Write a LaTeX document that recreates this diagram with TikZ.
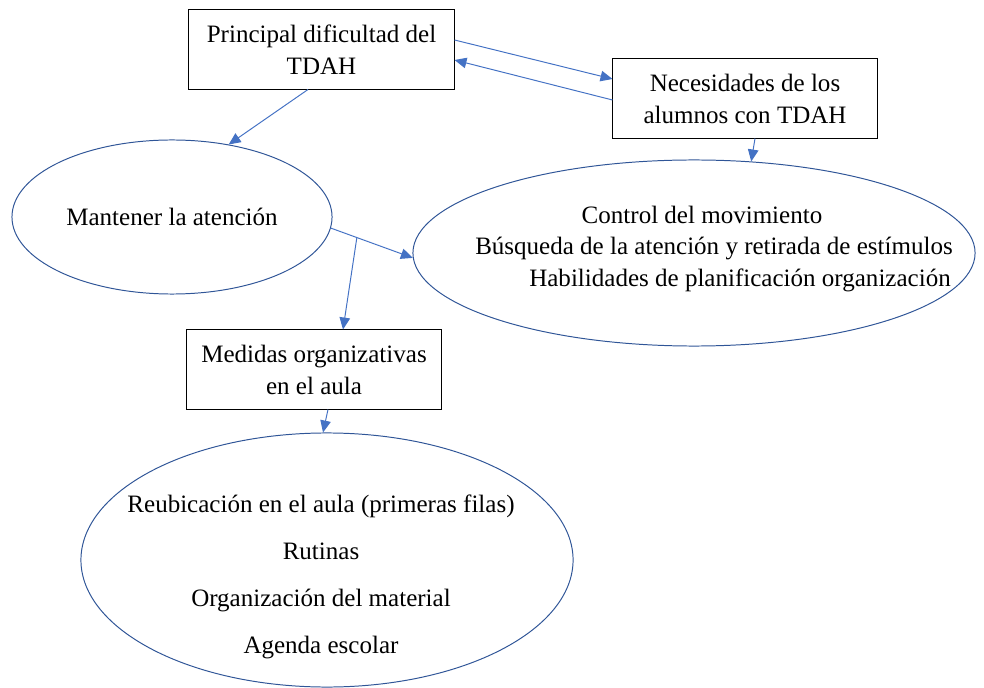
\documentclass[tikz,border=0pt]{standalone}
\usepackage{fontspec}
\setmainfont{Liberation Serif}
\usetikzlibrary{shapes,arrows.meta,positioning,calc}
\definecolor{linkblue}{RGB}{68,114,196}
\definecolor{ovalblue}{RGB}{47,85,151}

\begin{document}
\begin{tikzpicture}[
    x=0.025cm, y=-0.025cm,
    every node/.style={font=\fontsize{17.8}{22.7}\selectfont},
    box/.style={rectangle, draw=black, line width=0.7pt, align=center, inner sep=0pt, minimum height=1.975cm},
    oval/.style={ellipse, draw=ovalblue, line width=0.7pt, inner sep=0pt},
    arrow/.style={-{Triangle[length=8.5pt,width=7.5pt]}, draw=linkblue, line width=0.7pt}
]
    \useasboundingbox (0,0) rectangle (984,688);

    % Cuadros
    \node[box, minimum width=6.625cm] (dificultad) at (321.5,49.5) {Principal dificultad del\\TDAH};
    \node[box, minimum width=6.6cm] (necesidades) at (745,98.5) {Necesidades de los\\alumnos con TDAH};
    \node[box, minimum width=6.35cm] (medidas) at (314,369.5) {Medidas organizativas\\en el aula};

    % Elipses
    \node[oval, minimum width=8cm, minimum height=3.85cm] (atencion) at (172,217) {Mantener la atención};
    \node[oval, minimum width=14.05cm, minimum height=4.65cm] (control) at (694,253) {};
    \node[align=center] (controltxt) at (714,249)
        {Control del movimiento\hspace*{0.6cm}\\[-0.6pt]
         Búsqueda de la atención y retirada de estímulos\\[-0.6pt]
         \hspace*{1.3cm}Habilidades de planificación organización};
    \node[oval, minimum width=12.3cm, minimum height=6.35cm] (aula) at (327,560) {};
    \node[align=center] (aulatxt) at (321,577)
        {Reubicación en el aula (primeras filas)\\[10.8pt]
         Rutinas\\[10.8pt]
         Organización del material\\[10.8pt]
         Agenda escolar};

    % Flechas
    \draw[arrow] ($(dificultad.east)+(0,-9.5)$) -- ($(necesidades.west)+(0,-19.5)$);
    \draw[arrow] ($(necesidades.west)+(0,1.5)$) -- ($(dificultad.east)+(0,10.5)$);
    \draw[arrow] ($(dificultad.south)+(-13.5,0)$) -- (atencion.52);
    \draw[arrow] ($(necesidades.south)+(10,0)$) -- (control.58);
    \draw[arrow] (atencion.-4) -- (control.181);
    \coordinate (split) at ($(atencion.-4)!0.317!(control.181)$);
    \draw[arrow] (split) -- ($(medidas.north)+(29,0)$);
    \draw[arrow] ($(medidas.south)+(14,0)$) -- ($(aula.north)+(-4,0)$);

\end{tikzpicture}
\end{document}
